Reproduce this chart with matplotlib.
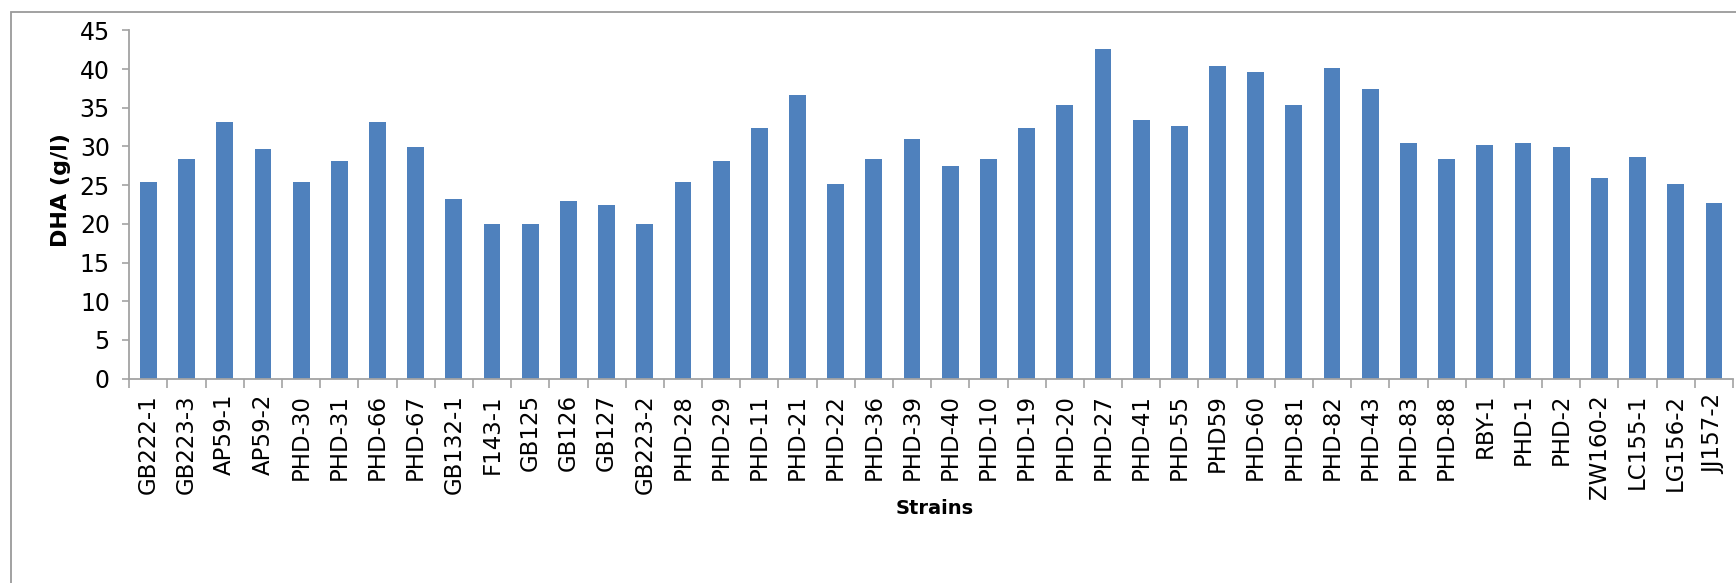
import matplotlib
matplotlib.use("Agg")
import matplotlib.pyplot as plt
from matplotlib import font_manager
from matplotlib.patches import Rectangle
from matplotlib.ticker import FixedLocator
import numpy as np

strains = ["GB222-1", "GB223-3", "AP59-1", "AP59-2", "PHD-30", "PHD-31", "PHD-66",
           "PHD-67", "GB132-1", "F143-1", "GB125", "GB126", "GB127", "GB223-2",
           "PHD-28", "PHD-29", "PHD-11", "PHD-21", "PHD-22", "PHD-36", "PHD-39",
           "PHD-40", "PHD-10", "PHD-19", "PHD-20", "PHD-27", "PHD-41", "PHD-55",
           "PHD59", "PHD-60", "PHD-81", "PHD-82", "PHD-43", "PHD-83", "PHD-88",
           "RBY-1", "PHD-1", "PHD-2", "ZW160-2", "LC155-1", "LG156-2", "JJ157-2"]
dha = [25.4, 28.4, 33.2, 29.7, 25.4, 28.1, 33.2, 29.9, 23.2, 20.0, 20.0, 23.0,
       22.4, 20.0, 25.4, 28.1, 32.4, 36.6, 25.2, 28.4, 31.0, 27.5, 28.4, 32.4,
       35.4, 42.6, 33.4, 32.6, 40.4, 39.6, 35.4, 40.1, 37.4, 30.4, 28.4, 30.2,
       30.4, 29.9, 25.9, 28.6, 25.2, 22.7]
yticks = list(range(0, 50, 5))

# narrow face for the value axis if there is one, else plain DejaVu a bit smaller
try:
    font_manager.findfont(font_manager.FontProperties(family="Liberation Sans Narrow"),
                          fallback_to_default=False)
    ytick_font, ytick_size = "Liberation Sans Narrow", 19
except ValueError:
    ytick_font, ytick_size = "DejaVu Sans", 17

W, H = 1736, 583
fig = plt.figure(figsize=(W / 100, H / 100), dpi=100)
ax = fig.add_axes([129.3 / W, 1 - 378.7 / H, (1733 - 129.3) / W, (378.7 - 30.3) / H])

x = np.arange(len(strains))
ax.bar(x, dha, width=0.44, color="#4F81BD", zorder=2)

ax.set_xlim(-0.5, len(strains) - 0.5)
ax.set_ylim(0, 45)
axis_grey = "#a3a3a3"
for side in ("top", "right"):
    ax.spines[side].set_visible(False)
for side in ("left", "bottom"):
    ax.spines[side].set_color(axis_grey)
    ax.spines[side].set_linewidth(1.3)

# category labels at bar centres, tick marks on the boundaries between them
ax.set_xticks(x)
ax.set_xticklabels(strains, rotation=90, fontsize=16.5, family="DejaVu Sans")
ax.tick_params(axis="x", which="major", length=0, pad=11)
ax.xaxis.set_minor_locator(FixedLocator(np.arange(-0.5, len(strains), 1.0)))
ax.tick_params(axis="x", which="minor", length=6.3, width=1.2, color=axis_grey)

ax.set_yticks(yticks)
ax.set_yticklabels([str(v) for v in yticks], family=ytick_font, fontsize=ytick_size)
ax.tick_params(axis="y", length=5, width=1.2, color=axis_grey, pad=9)

fig.text(61 / W, 1 - 190 / H, "DHA (g/l)", rotation=90, ha="center", va="center",
         fontsize=16, fontweight="bold")
fig.text(935 / W, 1 - 508 / H, "Strains", ha="center", va="center",
         fontsize=14, fontweight="bold")

# chart frame
fig.patches.append(Rectangle((10.7 / W, -0.1), 1.2, 1 - 12 / H + 0.1, fill=False,
                             edgecolor="#9a9a9a", linewidth=1.3,
                             transform=fig.transFigure, figure=fig))

fig.savefig("out.png", dpi=100)
